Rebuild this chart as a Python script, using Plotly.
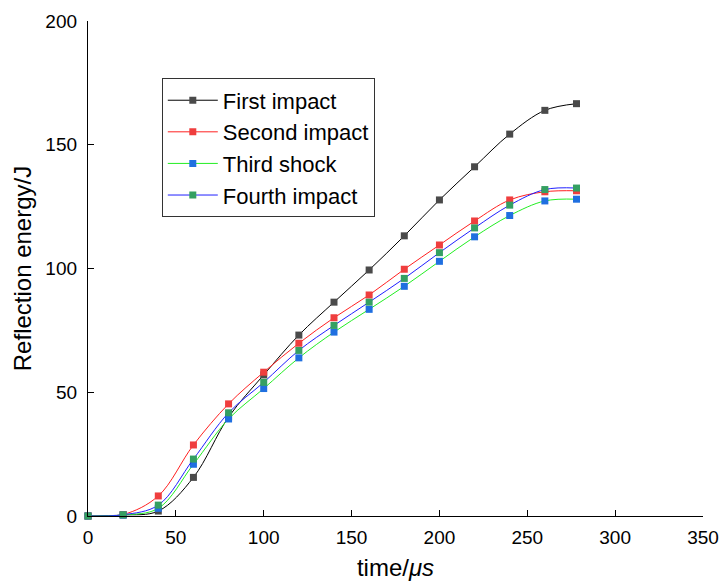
import plotly.graph_objects as go

time_us = [0, 20, 40, 60, 80, 100, 120, 140, 160, 180, 200, 220, 240, 260, 278]
first_impact = [0, 0.4, 2.0, 15.6, 40.0, 57.0, 73.1, 86.4, 99.4, 113.2, 127.7, 141.1, 154.3, 163.9, 166.6]
second_impact = [0, 0.6, 8.1, 28.7, 45.3, 58.1, 69.8, 80.1, 89.3, 99.7, 109.5, 119.2, 127.7, 131.0, 131.4]
third_shock = [0, 0.4, 3.1, 20.9, 39.2, 51.5, 63.9, 74.3, 83.5, 92.8, 102.9, 112.8, 121.4, 127.3, 128.0]
fourth_impact = [0, 0.5, 4.4, 23.0, 41.7, 54.0, 66.9, 77.0, 86.4, 96.0, 106.4, 116.4, 125.6, 131.9, 132.5]

names = ["First impact", "Second impact", "Third shock", "Fourth impact"]
series = [first_impact, second_impact, third_shock, fourth_impact]
line_colors = ["#000000", "#ff2020", "#22ee22", "#2020ff"]
marker_colors = ["#4a4a4a", "#ef3e3e", "#1f6fe0", "#34a062"]

FONT = "Liberation Sans, Arial, sans-serif"

fig = go.Figure()
for n, s, lc, mc in zip(names, series, line_colors, marker_colors):
    fig.add_trace(go.Scatter(
        x=time_us, y=s, name=n, mode="lines+markers",
        line=dict(color=lc, width=1, shape="spline", smoothing=1.0),
        marker=dict(symbol="square", size=7, color=mc, line=dict(width=0)),
        cliponaxis=False,
    ))

axis_font = dict(family=FONT, size=19, color="#000")
fig.update_layout(
    width=722, height=583,
    margin=dict(l=88, r=19, t=21, b=67),
    paper_bgcolor="white", plot_bgcolor="white",
    showlegend=True,
    legend=dict(
        x=0.12, y=0.884, xanchor="left", yanchor="top",
        bordercolor="#333", borderwidth=1, bgcolor="white",
        font=dict(family=FONT, size=22, color="#000"),
        itemwidth=50, tracegroupgap=0,
    ),
    xaxis=dict(
        range=[0, 350], tickvals=[0, 50, 100, 150, 200, 250, 300, 350],
        ticks="inside", ticklen=6, tickwidth=1.3, tickcolor="#000",
        showline=True, linecolor="#000", linewidth=1.3, mirror=False,
        showgrid=False, zeroline=False, tickfont=axis_font, automargin=False,
        ticklabelstandoff=4,
        title=dict(text="time/<i>μs</i>", font=dict(family=FONT, size=24, color="#000"), standoff=12),
    ),
    yaxis=dict(
        range=[0, 200], tickvals=[0, 50, 100, 150, 200],
        ticks="inside", ticklen=6, tickwidth=1.3, tickcolor="#000",
        showline=True, linecolor="#000", linewidth=1.3, mirror=False,
        showgrid=False, zeroline=False, tickfont=axis_font, automargin=False,
        ticklabelstandoff=6,
        title=dict(text="Reflection energy/J", font=dict(family=FONT, size=24, color="#000"), standoff=6),
    ),
)

fig.write_html(
    "out.html",
    config={"displayModeBar": False},
    post_script="document.body.style.margin='0';document.body.style.overflow='hidden';",
)
